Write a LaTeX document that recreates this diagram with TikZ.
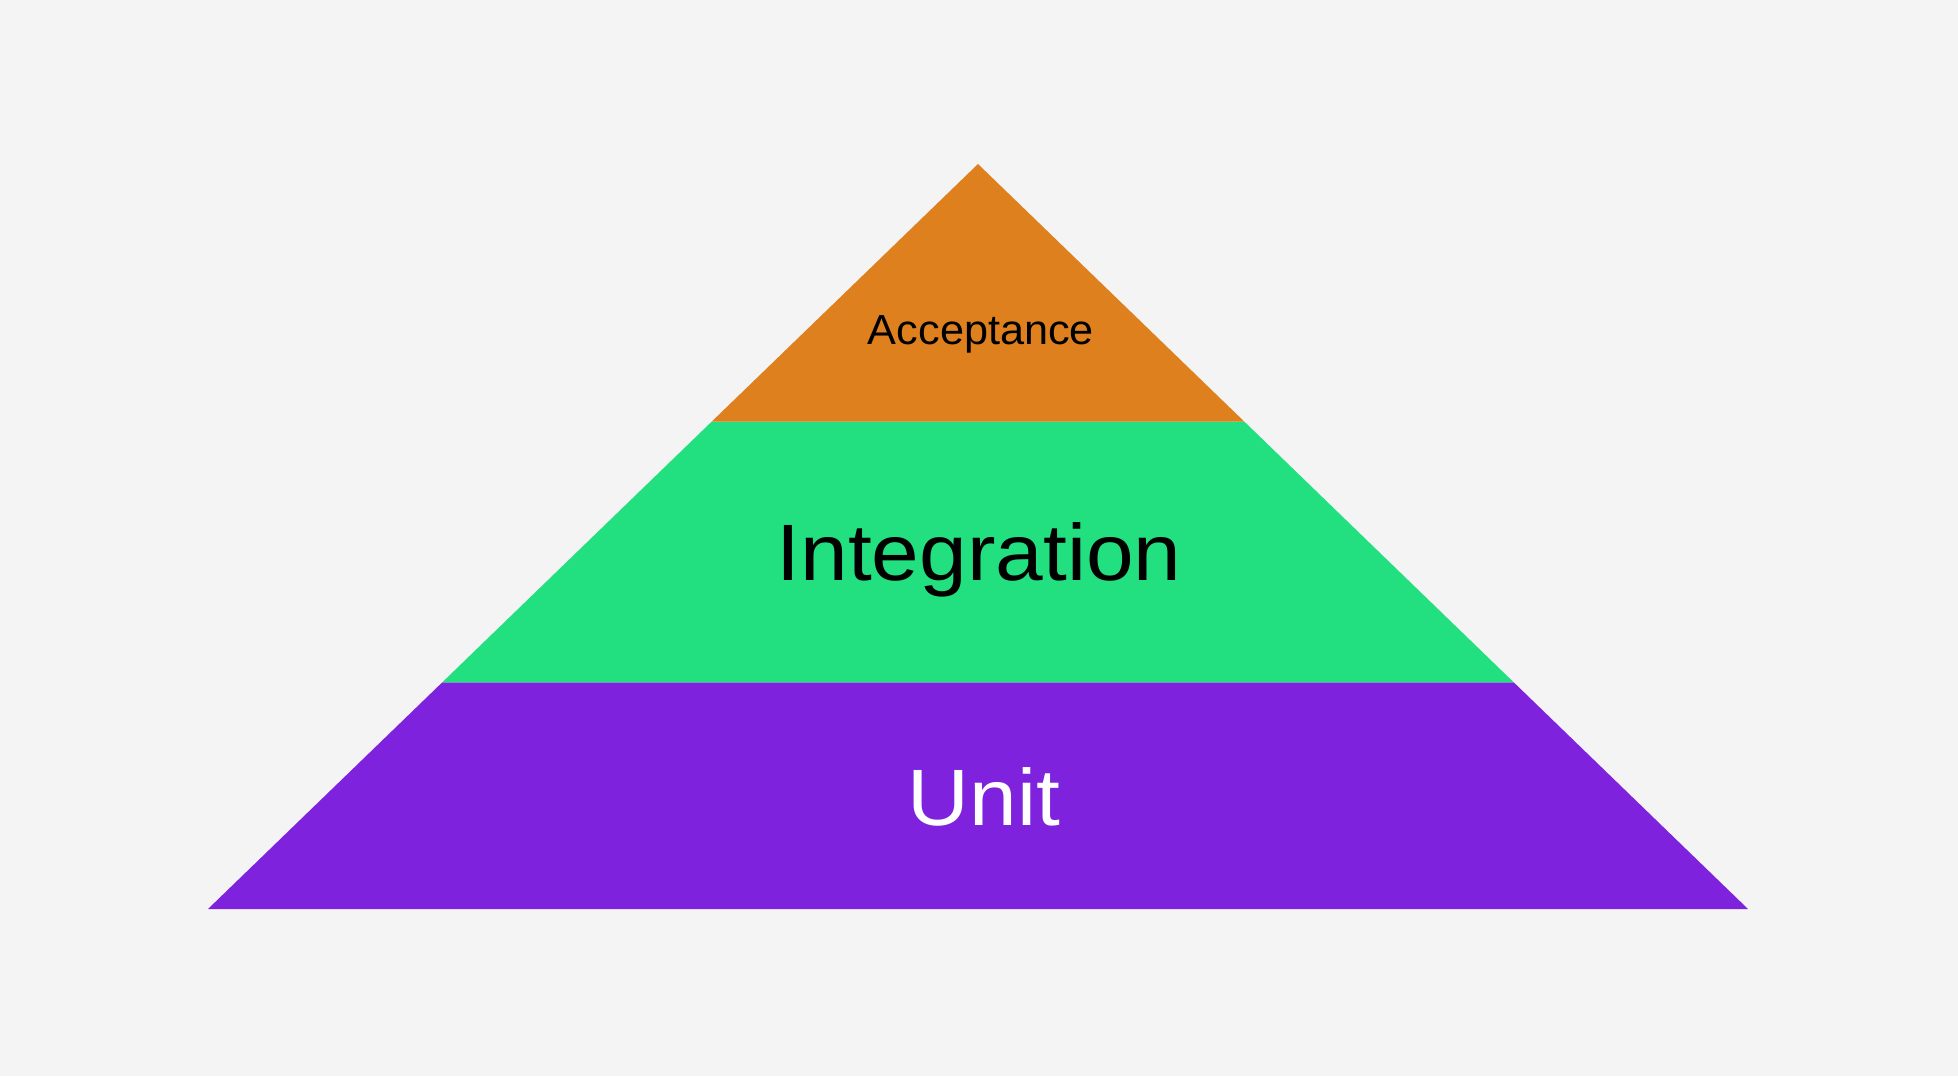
\documentclass[tikz,border=0pt]{standalone}
\usepackage{fontspec}
\setmainfont{Liberation Sans}
\newfontfamily\widefont[FakeStretch=1.07]{Liberation Sans}
\newfontfamily\semiwidefont[FakeStretch=1.03]{Liberation Sans}
\definecolor{bgc}{HTML}{F4F4F4}
\definecolor{accc}{HTML}{DF801F}
\definecolor{intc}{HTML}{22E07F}
\definecolor{unic}{HTML}{7E22DE}
\begin{document}
\begin{tikzpicture}[x=1pt,y=-1pt,
  band/.style={draw=none},
  lbl/.style={anchor=base,inner sep=0pt}]
\fill[bgc] (0,0) rectangle (1958,1076);
\useasboundingbox (0,0) rectangle (1958,1076);
\coordinate (apex) at (978,164);
\coordinate (l1) at (711.6,421.7);
\coordinate (r1) at (1244.4,421.7);
\coordinate (l2) at (442.3,682.3);
\coordinate (r2) at (1513.7,682.3);
\coordinate (bl) at (208,909);
\coordinate (br) at (1748,909);
\fill[band,unic] (l2) -- (r2) -- (br) -- (bl) -- cycle;
\fill[band,intc] (l1) -- (r1) -- (r2) -- (l2) -- cycle;
\fill[band,accc] (apex) -- (r1) -- (l1) -- cycle;
\node[lbl,font=\semiwidefont\fontsize{42}{48}\selectfont,text=black] (acc) at (981,344) {Acceptance};
\node[lbl,font=\widefont\fontsize{80}{90}\selectfont,text=black] (int) at (979,580) {Integration};
\node[lbl,font=\widefont\fontsize{80}{90}\selectfont,text=white] (uni) at (984,825) {Unit};
\end{tikzpicture}
\end{document}
